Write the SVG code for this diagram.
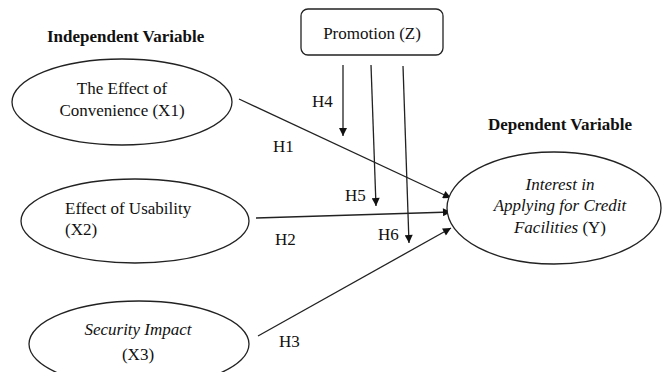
<svg xmlns="http://www.w3.org/2000/svg" width="664" height="372" viewBox="0 0 664 372">
<defs>
<style>
text{font-family:"Liberation Serif","Times New Roman",serif;font-size:17px;fill:#111}
.b{font-weight:bold}
.i{font-style:italic}
.n{fill:#fff;stroke:#222;stroke-width:1.3}
.c{stroke:#222;stroke-width:1.3;fill:none;marker-end:url(#ah)}
</style>
<marker id="ah" viewBox="0 0 10 10" refX="10" refY="5" markerWidth="9" markerHeight="8" markerUnits="userSpaceOnUse" orient="auto">
<path d="M0,0 L10,5 L0,10 z" fill="#111"/>
</marker>
</defs>
<rect width="664" height="372" fill="#fff"/>
<text class="b" x="47" y="42">Independent Variable</text>
<text class="b" x="488" y="130">Dependent Variable</text>
<g id="connectors">
<line class="c" x1="239" y1="99" x2="451" y2="198"/>
<line class="c" x1="256" y1="218" x2="451" y2="212"/>
<line class="c" x1="258" y1="336" x2="451" y2="228"/>
<line class="c" x1="343" y1="65" x2="343" y2="136"/>
<line class="c" x1="371" y1="65" x2="376" y2="206"/>
<line class="c" x1="403" y1="66" x2="409" y2="243"/>
<text x="273" y="152">H1</text>
<text x="275" y="245">H2</text>
<text x="279" y="347">H3</text>
<text x="312" y="107">H4</text>
<text x="345" y="201">H5</text>
<text x="378" y="240">H6</text>
</g>
<g id="promotion">
<rect class="n" x="301" y="9" width="142" height="46" rx="7"/>
<text x="372" y="39" text-anchor="middle">Promotion (Z)</text>
</g>
<g id="x1">
<ellipse class="n" cx="122" cy="102" rx="110" ry="43"/>
<text x="122" y="94" text-anchor="middle">The Effect of</text>
<text x="122" y="116" text-anchor="middle">Convenience (X1)</text>
</g>
<g id="x2">
<ellipse class="n" cx="135" cy="221" rx="114" ry="42"/>
<text x="65" y="214">Effect of Usability</text>
<text x="65" y="235">(X2)</text>
</g>
<g id="x3">
<ellipse class="n" cx="139" cy="344" rx="110" ry="43"/>
<text class="i" x="138" y="335" text-anchor="middle">Security Impact</text>
<text x="138" y="360" text-anchor="middle">(X3)</text>
</g>
<g id="y">
<ellipse class="n" cx="554" cy="208" rx="107" ry="56"/>
<text class="i" x="560" y="190" text-anchor="middle">Interest in</text>
<text class="i" x="560" y="211" text-anchor="middle">Applying for Credit</text>
<text x="560" y="233" text-anchor="middle"><tspan class="i">Facilities</tspan> (Y)</text>
</g>
</svg>
